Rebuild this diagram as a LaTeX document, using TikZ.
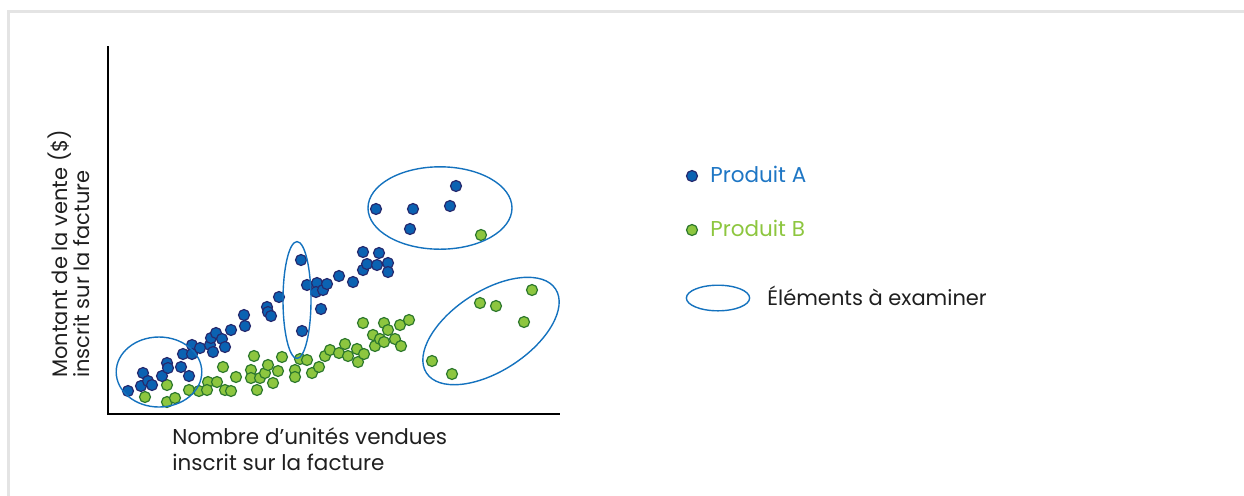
\documentclass[tikz,border=0pt]{standalone}
\usepackage{fontspec}
\setmainfont{Poppins}
\usepackage{tikz}
\definecolor{dotA}{RGB}{11,98,178}
\definecolor{rimA}{RGB}{38,42,110}
\definecolor{dotB}{RGB}{141,198,63}
\definecolor{rimB}{RGB}{45,120,45}
\definecolor{zoneBlue}{RGB}{20,114,190}
\definecolor{txtA}{RGB}{30,118,196}
\definecolor{frameGray}{RGB}{228,228,228}

\begin{document}
\begin{tikzpicture}[x=0.5pt, y=-0.5pt,
    ptA/.style={fill=dotA, draw=rimA, line width=0.6pt},
    ptB/.style={fill=dotB, draw=rimB, line width=0.6pt},
    zone/.style={draw=zoneBlue, line width=0.7pt},
    lbl/.style={inner sep=0pt, font=\fontsize{10.75pt}{13pt}\selectfont, text=black!88}]
    \useasboundingbox (0,0) rectangle (1244,495);
    \draw[frameGray, line width=1.3pt] (8.7,11.3) rectangle (1270,520);

    \coordinate (top) at (108,46);
    \coordinate (orig) at (108,414);
    \coordinate (right) at (560,414);
    \draw[line width=1.35pt] (top) -- (orig) -- (right);

    \node[lbl, rotate=90, anchor=north west, align=left, font=\fontsize{10.5pt}{11pt}\selectfont] (lblY) at (47,378) {Montant de la vente (\$)\\inscrit sur la facture};
    \node[lbl, anchor=north west, align=left] (lblX) at (172,427) {Nombre d’unités vendues\\inscrit sur la facture};

    \foreach \px/\py in {145/397,167/385,167/402,175/398,189/390,199/391,208/382,207/390,217/382,223/367,
        225/390,231/391,236/377,251/370,254/356,251/378,257/390,260/378,265/373,268/365,273/383,278/371,
        282/357,295/370,295/377,300/359,307/360,312/373,319/367,325/356,330/350,339/353,345/344,348/356,
        357/349,358/362,364/354,363/323,373/335,375/346,380/339,384/323,388/330,384/342,395/339,401/346,
        400/325,409/320,481/235,432/361,452/374,480/303,496/306,524/322,532/290}
        \filldraw[ptB] (\px,\py) circle (2.75pt);
    \foreach \px/\py in {128/391,141/386,143/373,148/381,152/385,162/376,167/363,168/368,181/367,183/354,
        189/376,192/345,192/354,200/348,210/345,211/338,213/352,216/333,222/339,225/347,231/330,244/315,
        245/326,267/307,268/312,271/316,279/297,301/260,302/331,307/285,317/283,316/292,323/290,327/284,
        321/309,339/276,353/282,363/252,379/253,363/270,367/264,377/265,388/263,388/272,
        376/209,413/209,410/229,450/206,456/186}
        \filldraw[ptA] (\px,\py) circle (2.75pt);

    \draw[zone] (159,372) ellipse [x radius=21.4pt, y radius=17.5pt];
    \draw[zone] (297,300) ellipse [x radius=7pt, y radius=29.2pt];
    \draw[zone] (440,208) ellipse [x radius=36pt, y radius=20.6pt];
    \draw[zone, rotate around={33:(491,331)}] (491,331) ellipse [x radius=38.5pt, y radius=20pt];

    \filldraw[ptA] (692,176) circle (2.75pt);
    \node[lbl, anchor=base west, text=txtA] (legA) at (710,182.5) {Produit A};
    \filldraw[ptB] (692,230) circle (2.75pt);
    \node[lbl, anchor=base west, text=dotB] (legB) at (710,236.5) {Produit B};
    \draw[zone] (718,298) ellipse [x radius=15.8pt, y radius=6.4pt];
    \node[lbl, anchor=base west, font=\fontsize{10.5pt}{13pt}\selectfont] (legZone) at (767,305) {Éléments à examiner};
\end{tikzpicture}
\end{document}
